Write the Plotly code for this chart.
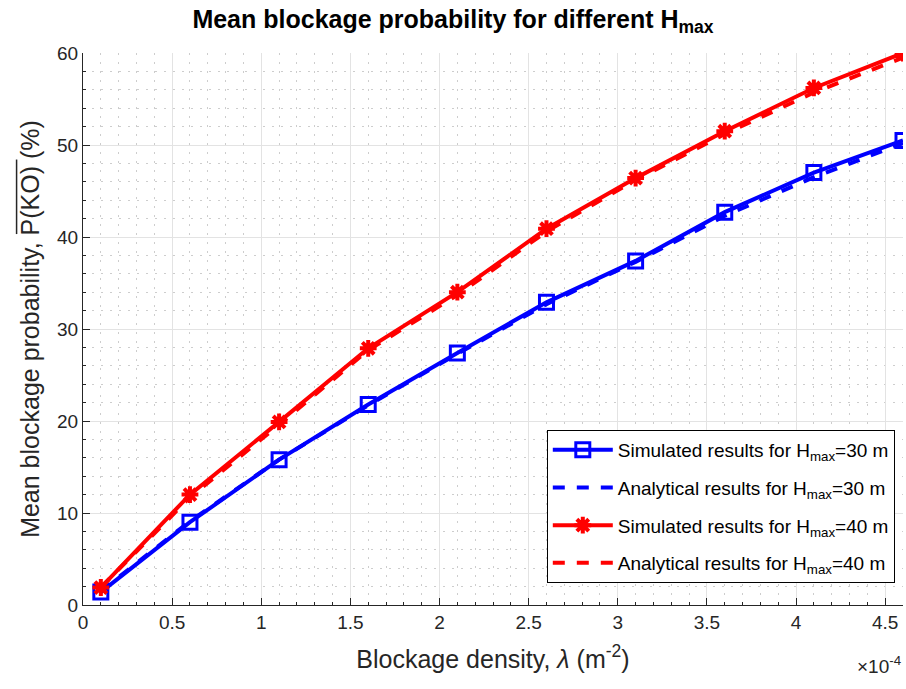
import plotly.graph_objects as go

# Blockage density in units of 1e-4 m^-2
density = [0.1, 0.6, 1.1, 1.6, 2.1, 2.6, 3.1, 3.6, 4.1, 4.6]
sim_30 = [1.4, 9.0, 15.8, 21.8, 27.4, 32.9, 37.4, 42.7, 47.0, 50.5]
ana_30 = [1.5, 9.1, 15.8, 21.7, 27.3, 32.7, 37.3, 42.3, 46.5, 50.2]
sim_40 = [1.9, 12.0, 19.9, 27.9, 34.0, 40.9, 46.4, 51.5, 56.2, 60.0]
ana_40 = [1.9, 11.7, 19.6, 27.7, 33.7, 40.6, 46.2, 51.2, 55.7, 59.5]
x_ticks = [0, 0.5, 1, 1.5, 2, 2.5, 3, 3.5, 4, 4.5]
y_ticks = [0, 10, 20, 30, 40, 50, 60]

FONT = "Liberation Sans, Arial, Helvetica, sans-serif"
TXT = "#262626"

fig = go.Figure()
fig.add_trace(go.Scatter(x=density, y=sim_30, mode="lines+markers", legendgroup="a",
                         name="Simulated results for H<sub>max</sub>=30 m",
                         line=dict(color="#0000ff", width=4),
                         marker=dict(symbol="square-open", size=14, color="#0000ff",
                                     line=dict(width=3, color="#0000ff"))))
fig.add_trace(go.Scatter(x=density, y=ana_30, mode="lines", legendgroup="b",
                         name="Analytical results for H<sub>max</sub>=30 m",
                         line=dict(color="#0000ff", width=4, dash="dash")))
fig.add_trace(go.Scatter(x=density, y=sim_40, mode="lines+markers", legendgroup="c",
                         name="Simulated results for H<sub>max</sub>=40 m",
                         line=dict(color="#ff0000", width=4),
                         marker=dict(symbol="asterisk-open", size=14, color="#ff0000",
                                     line=dict(width=4, color="#ff0000"))))
fig.add_trace(go.Scatter(x=density, y=ana_40, mode="lines", legendgroup="d",
                         name="Analytical results for H<sub>max</sub>=40 m",
                         line=dict(color="#ff0000", width=4, dash="dash")))

fig.update_layout(
    width=906, height=689,
    margin=dict(l=83, r=3, t=53, b=84),
    paper_bgcolor="white", plot_bgcolor="white",
    font=dict(family=FONT, color=TXT, size=19),
    title=dict(text="<b>Mean blockage probability for different H<sub>max</sub></b>",
               x=0.5, xanchor="center", y=0.985, yanchor="top",
               font=dict(size=25, color="black", family=FONT)),
    legend=dict(x=0.99, xanchor="right", y=0.04, yanchor="bottom",
                bgcolor="white", bordercolor="black", borderwidth=1,
                font=dict(size=19, color="black", family=FONT),
                tracegroupgap=10, itemwidth=60),
    showlegend=True,
)

fig.update_xaxes(
    range=[0, 4.6], tickvals=x_ticks, ticktext=[str(v) for v in x_ticks],
    showline=True, linecolor="#262626", linewidth=1,
    ticks="inside", ticklen=7, tickcolor="#262626",
    showgrid=True, gridcolor="#e3e3e3", gridwidth=1, zeroline=False,
    minor=dict(dtick=0.1, showgrid=True, gridcolor="#cdcdcd", griddash="2px,7px",
               ticks="inside", ticklen=3, tickcolor="#262626"),
    title=dict(text="Blockage density, <i>λ</i> (m<sup>-2</sup>)", font=dict(size=25), standoff=18),
    tickfont=dict(size=19),
)
fig.update_yaxes(
    range=[0, 60], tickvals=y_ticks,
    showline=True, linecolor="#262626", linewidth=1,
    ticks="inside", ticklen=7, tickcolor="#262626",
    showgrid=True, gridcolor="#e3e3e3", gridwidth=1, zeroline=False,
    minor=dict(dtick=2, showgrid=True, gridcolor="#cdcdcd", griddash="2px,7px",
               ticks="inside", ticklen=3, tickcolor="#262626"),
    title=dict(text="Mean blockage probability, P(KO) (%)", font=dict(size=25), standoff=10),
    tickfont=dict(size=19),
)

# overline above "P(KO)" in the y-axis title
fig.add_shape(type="line", xref="paper", yref="paper",
              x0=-0.081, x1=-0.081, y0=0.672, y1=0.807,
              line=dict(color=TXT, width=1.5))

fig.add_annotation(xref="paper", yref="paper", x=1.0, y=-0.083, xanchor="right", yanchor="top",
                   text="×10<sup>-4</sup>", showarrow=False, font=dict(size=19, color=TXT))

fig.write_html("out.html")
